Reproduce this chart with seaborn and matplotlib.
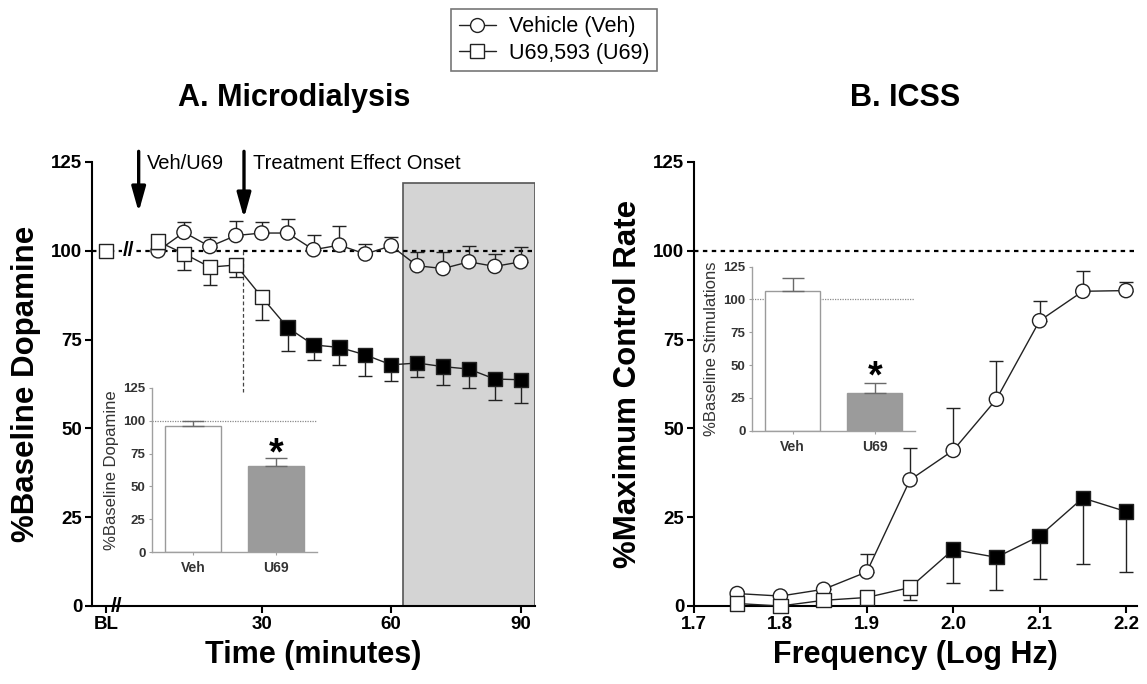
import numpy as np
import pandas as pd
import matplotlib
matplotlib.use("Agg")
import matplotlib.pyplot as plt
import seaborn as sns
from matplotlib.lines import Line2D
from matplotlib.patches import Rectangle

# ---------------- data ----------------
time_min = [6, 12, 18, 24, 30, 36, 42, 48, 54, 60, 66, 72, 78, 84, 90]
baseline_value = 100
veh_A = [100.0, 105.2, 101.2, 104.3, 105.0, 105.0, 100.3, 101.6, 99.1, 101.4, 95.8, 95.0, 96.9, 95.6, 96.9]
veh_A_sem = [2.0, 3.0, 2.8, 4.2, 3.0, 4.0, 4.2, 5.4, 2.9, 2.6, 3.9, 4.7, 4.5, 3.4, 4.3]
u69_A = [102.6, 99.2, 95.4, 96.0, 87.0, 78.4, 73.5, 72.8, 70.7, 67.9, 68.4, 67.4, 66.7, 63.9, 63.7]
u69_A_sem = [2.0, 4.5, 5.0, 3.4, 6.6, 6.7, 4.2, 4.9, 5.9, 4.5, 4.0, 5.3, 5.2, 5.9, 6.6]
u69_A_sig = [False] * 5 + [True] * 10

freq = [1.75, 1.80, 1.85, 1.90, 1.95, 2.00, 2.05, 2.10, 2.15, 2.20]
veh_B = [3.5, 2.8, 4.7, 9.6, 35.5, 43.8, 58.2, 80.3, 88.6, 88.8]
veh_B_sem = [0.8, 0.8, 0.8, 5.0, 9.0, 12.0, 10.7, 5.7, 5.7, 2.5]
u69_B = [0.7, 0.0, 1.6, 2.4, 5.2, 15.9, 13.7, 19.7, 30.4, 26.6]
u69_B_sem = [0.5, 0.5, 0.5, 0.5, 3.6, 9.3, 9.3, 12.2, 18.7, 17.0]
u69_B_sig = [False] * 5 + [True] * 5

inset_groups = ["Veh", "U69"]
inset_A_vals = [95.7, 65.8]
inset_A_sem = [4.0, 6.0]
inset_B_vals = [106.7, 29.0]
inset_B_sem = [9.5, 7.6]

y_ticks = [0, 25, 50, 75, 100, 125]
A_xticks = [-6, 30, 60, 90]
A_xticklabels = ["BL", "30", "60", "90"]
B_xticks = [1.7, 1.8, 1.9, 2.0, 2.1, 2.2]

# ---------------- style ----------------
sns.set_style("ticks")
plt.rcParams["font.family"] = ["Liberation Sans", "DejaVu Sans"]
plt.rcParams.update({
    "axes.linewidth": 1.5, "axes.edgecolor": "black", "text.color": "black",
    "axes.labelcolor": "black", "xtick.color": "black", "ytick.color": "black",
})

W, H = 1147, 684
fig = plt.figure(figsize=(W / 100, H / 100), dpi=100)


def rect(x0, y0, x1, y1):
    return [x0 / W, 1 - y1 / H, (x1 - x0) / W, (y1 - y0) / H]


LINE_C = "#222222"
MS = 105  # marker area (pt^2)


def style_main(ax):
    sns.despine(ax=ax)
    ax.tick_params(axis="both", direction="out", length=5, width=1.5, labelsize=13.5, pad=2)
    ax.set_ylim(0, 125)
    ax.set_yticks(y_ticks)
    ax.set_yticklabels([str(v) for v in y_ticks], fontweight="bold")


def draw_series(ax, x, y, sem, sig, marker, up, z):
    df = pd.DataFrame({"x": x, "y": y, "fill": ["filled" if s else "open" for s in sig]})
    sns.lineplot(data=df, x="x", y="y", color=LINE_C, lw=1.0, ax=ax, zorder=z, legend=False)
    lower = np.zeros(len(y)) if up else np.array(sem)
    upper = np.array(sem) if up else np.zeros(len(y))
    ax.errorbar(x, y, yerr=[lower, upper], fmt="none", ecolor=LINE_C, elinewidth=1.0,
                capsize=4.8, capthick=1.0, zorder=z, clip_on=False)
    sns.scatterplot(data=df, x="x", y="y", hue="fill",
                    palette={"open": "white", "filled": "black"},
                    marker=marker, s=MS, edgecolor=LINE_C, linewidth=1.0,
                    ax=ax, zorder=z + 0.5, legend=False)
    for c in ax.collections:
        c.set_clip_on(False)


# ---------------- Panel A ----------------
axA = fig.add_axes(rect(92, 162, 535, 606))
axA.set_xlim(-9.31, 93.31)
axA.add_patch(Rectangle((62.7, 0), 93.31 - 62.7, 119, facecolor="#d4d4d4",
                        edgecolor="#555555", lw=1.2, zorder=0.5))
axA.axhline(100, color="black", lw=1.6, ls=(0, (2, 2)), zorder=1)
axA.plot([25.6, 25.6], [100, 60.3], color="#444444", lw=0.9, ls=(0, (3, 2)), zorder=1)

draw_series(axA, time_min, veh_A, veh_A_sem, [False] * len(veh_A), "o", True, 3)
draw_series(axA, time_min, u69_A, u69_A_sem, u69_A_sig, "s", False, 5)
sns.scatterplot(x=[-6], y=[baseline_value], marker="s", s=MS, color="white",
                edgecolor=LINE_C, linewidth=1.0, ax=axA, zorder=6, legend=False)
# axis breaks
axA.text(-0.9, 100, "//", ha="center", va="center", fontsize=15, fontweight="bold",
         color="black", zorder=6, bbox=dict(facecolor="white", edgecolor="none", pad=0.2))
axA.text(-3.6, 0, "//", ha="center", va="center", fontsize=15, fontweight="bold",
         color="black", zorder=6, clip_on=False)

for xa, ytip in [(1.5, 110.9), (25.9, 109.2)]:
    axA.annotate("", xy=(xa, ytip), xytext=(xa, 128.0),
                 arrowprops=dict(arrowstyle="-|>,head_length=1.5,head_width=0.42",
                                 color="black", lw=2.4, shrinkA=0, shrinkB=0),
                 annotation_clip=False)
axA.text(3.3, 124.6, "Veh/U69", fontsize=14.5, ha="left", va="center", clip_on=False)
axA.text(28.1, 124.6, "Treatment Effect Onset", fontsize=14.5, ha="left", va="center", clip_on=False)

style_main(axA)
axA.set_xticks(A_xticks)
axA.set_xticklabels(A_xticklabels, fontweight="bold")
axA.set_xlabel("Time (minutes)", fontsize=22, fontweight="bold", labelpad=5)
axA.set_ylabel("%Baseline Dopamine", fontsize=22.5, fontweight="bold", labelpad=7)

# ---------------- Panel B ----------------
axB = fig.add_axes(rect(694, 162, 1137, 606))
axB.set_xlim(1.7, 1.7 + 443 / 864)
axB.axhline(100, color="black", lw=1.6, ls=(0, (2, 2)), zorder=1)
draw_series(axB, freq, veh_B, veh_B_sem, [False] * len(veh_B), "o", True, 3)
draw_series(axB, freq, u69_B, u69_B_sem, u69_B_sig, "s", False, 5)
style_main(axB)
axB.set_xticks(B_xticks)
axB.set_xticklabels([f"{v:.1f}" for v in B_xticks], fontweight="bold")
axB.set_xlabel("Frequency (Log Hz)", fontsize=22, fontweight="bold", labelpad=5)
axB.set_ylabel("%Maximum Control Rate", fontsize=22.5, fontweight="bold", labelpad=7)


# ---------------- Insets ----------------
def inset(box, vals, sems, ylabel, star_y):
    ax = fig.add_axes(rect(*box))
    ax.patch.set_visible(False)
    df = pd.DataFrame({"g": inset_groups, "v": vals})
    ax.axhline(100, color="#8a8a8a", lw=0.9, ls=(0, (1, 1)), zorder=0.5)
    sns.barplot(data=df, x="g", y="v", hue="g", palette={"Veh": "white", "U69": "#9b9b9b"},
                edgecolor="#9a9a9a", linewidth=1.0, width=0.675, ax=ax, legend=False, zorder=2)
    ax.errorbar([0, 1], vals, yerr=[np.zeros(2), sems], fmt="none", ecolor="#6a6a6a",
                elinewidth=1.0, capsize=8, capthick=1.0, zorder=3)
    ax.text(1, star_y, "*", ha="center", va="baseline", fontsize=27, fontweight="bold", color="black")
    ax.set_xlim(-0.5, 1.49)
    ax.set_ylim(0, 125)
    ax.set_yticks(y_ticks)
    ax.set_yticklabels([str(v) for v in y_ticks], fontweight="bold")
    sns.despine(ax=ax)
    for s in ["left", "bottom"]:
        ax.spines[s].set_color("#a0a0a0")
        ax.spines[s].set_linewidth(1.0)
    ax.tick_params(axis="both", length=2.5, width=0.8, color="#a0a0a0", labelcolor="#333333", pad=2)
    ax.tick_params(axis="y", labelsize=9.5)
    ax.tick_params(axis="x", labelsize=10, pad=4)
    for lab in ax.get_xticklabels():
        lab.set_fontweight("bold")
    ax.set_xlabel("")
    ax.set_ylabel(ylabel, fontsize=12, color="#333333", labelpad=3)
    return ax


inset((151.7, 387.7, 317, 552.3), inset_A_vals, inset_A_sem, "%Baseline Dopamine", 67)
inset((751.7, 266.7, 915, 430.7), inset_B_vals, inset_B_sem, "%Baseline Stimulations", 33)

# ---------------- titles & legend ----------------
fig.text(294 / W, 1 - 98 / H, "A. Microdialysis", ha="center", va="center", fontsize=22, fontweight="bold")
fig.text(905 / W, 1 - 98 / H, "B. ICSS", ha="center", va="center", fontsize=22, fontweight="bold")

handles = [Line2D([], [], color=LINE_C, lw=1.0, marker="o", ms=10, mfc="white", mec=LINE_C),
           Line2D([], [], color=LINE_C, lw=1.0, marker="s", ms=10, mfc="white", mec=LINE_C)]
leg = fig.legend(handles, ["Vehicle (Veh)", "U69,593 (U69)"], loc="center",
                 bbox_to_anchor=(554 / W, 1 - 40 / H), frameon=True, fancybox=False,
                 fontsize=15.5, handlelength=1.7, handletextpad=0.6, borderpad=0.35,
                 labelspacing=0.25)
leg.get_frame().set_edgecolor("#555555")
leg.get_frame().set_linewidth(1.2)

fig.savefig("out.png", dpi=100)
